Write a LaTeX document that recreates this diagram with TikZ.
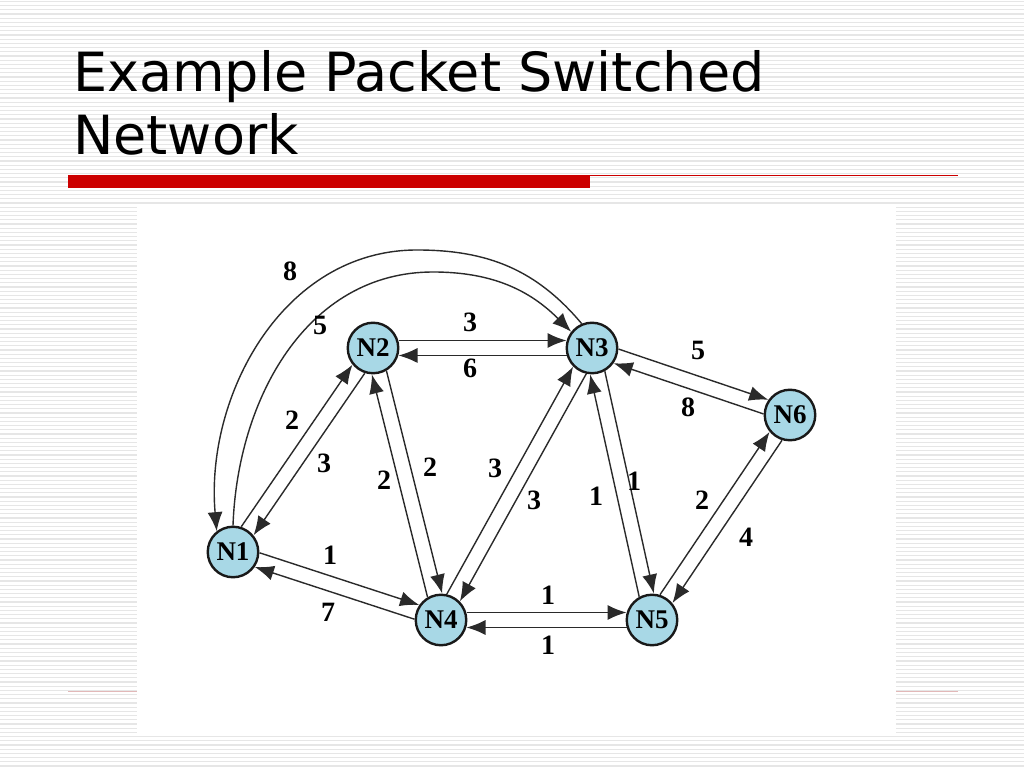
\documentclass[tikz,border=0pt]{standalone}
\usepackage{fontspec}
\setmainfont{Liberation Serif}
\newfontfamily\titlefont{DejaVu Sans}
\usetikzlibrary{arrows.meta,calc}
\definecolor{stripe}{HTML}{E6E6E6}
\definecolor{slidered}{HTML}{CC0000}
\definecolor{footred}{HTML}{E2B8B8}
\definecolor{nodeblue}{HTML}{A8D8E6}
\definecolor{edgegray}{HTML}{2A2A2A}
\tikzset{>={Latex[length=19pt,width=15pt]},
  router/.style={circle,draw=black!90,line width=2.4pt,fill=nodeblue,minimum size=50.5pt,inner sep=0pt,
    font=\fontsize{27}{27}\selectfont\bfseries},
  link/.style={->,draw=edgegray,line width=1.4pt},
  pair/.style={link,shorten >=25.5pt,shorten <=25.5pt},
  weight/.style={font=\fontsize{28}{28}\selectfont\bfseries,inner sep=1pt},
  title/.style={font=\titlefont\fontsize{54}{60}\selectfont,inner sep=0pt,anchor=base west}}

\begin{document}
\begin{tikzpicture}[x=1pt,y=1pt]
\useasboundingbox (0,0) rectangle (1024,768);
\fill[white] (0,0) rectangle (1024,768);
% slide background
\foreach \i in {0,...,182}{\draw[stripe,line width=1.2pt] (0,{766.5-4.2*\i})--(1024,{766.5-4.2*\i});}
\draw[footred,line width=1pt] (68,77)--(958,77);
\fill[white] (137,32) rectangle (896,563);
\fill[slidered] (68,580) rectangle (590,593);\draw[slidered,line width=1pt] (590,592.5)--(958,592.5);
\node[title] (title) at (73,676) {Example Packet Switched};
\node[title] (title2) at (73,613) {Network};
% routers
\node[router] (N1) at (233,216) {N1};
\node[router] (N2) at (373,420) {N2};
\node[router] (N3) at (592,420) {N3};
\node[router] (N4) at (441,148) {N4};
\node[router] (N5) at (652,148) {N5};
\node[router] (N6) at (790,353) {N6};
% links, one per direction
\foreach \a/\b in {N1/N2,N2/N1,N1/N4,N4/N1,N2/N3,N3/N2,N2/N4,N4/N2,N3/N4,N4/N3,N3/N5,N5/N3,N3/N6,N6/N3,N4/N5,N5/N4,N5/N6,N6/N5}
  \draw[pair] ($(\a)!7.5pt!90:(\b)$)--($(\b)!7.5pt!-90:(\a)$);
\coordinate (outtop) at (417,518);
\coordinate (intop) at (433,496);
\draw[link] (N3.113) to[out=130,in=0] (outtop) to[out=180,in=95] (N1.128);
\draw[link] (N1.90) to[out=88,in=180] (intop) to[out=0,in=135] (N3.142);
% costs
\foreach \n/\x/\y/\t in {31/290/497/8,13/320/443/5,23/470/446/3,32/470/400/6,36/698/418/5,63/688/361/8,
  12/292/348/2,21/324/305/3,42/384/288/2,24/430/301/2,43/495/300/3,34/534/268/3,53/596/272/1,35/634/287/1,
  56/702/268/2,65/746/231/4,14/330/213/1,41/328/156/7,45/548/173/1,54/548/123/1}
  \node[weight] (w\n) at (\x,\y) {\t};
\end{tikzpicture}
\end{document}
